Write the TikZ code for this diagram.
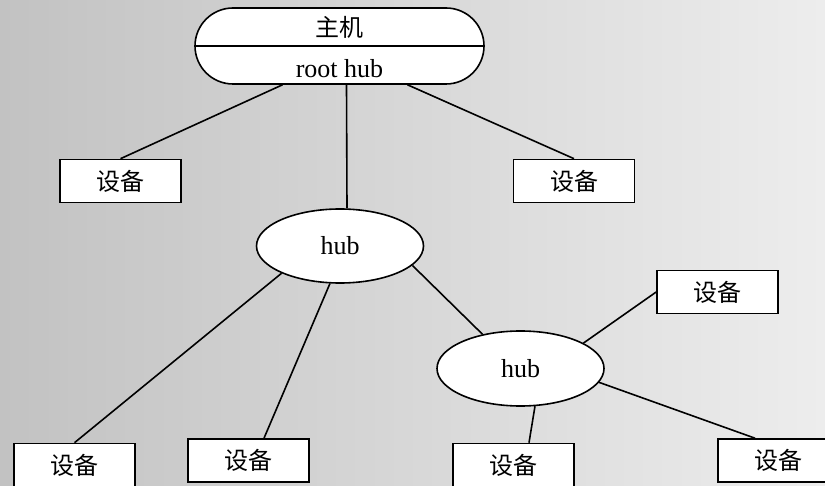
\documentclass[tikz,border=0pt]{standalone}
\usepackage{fontspec}
\setmainfont{Liberation Serif}
\newfontfamily\cjk{Noto Sans CJK SC}
\usetikzlibrary{shapes.geometric,calc}
\definecolor{bgL}{RGB}{194,194,194}
\definecolor{bgR}{RGB}{237,237,237}
\begin{document}
\begin{tikzpicture}[x=1pt,y=-1pt,line width=1.6pt,
  devbox/.style={draw,fill=white,minimum width=121pt,minimum height=43pt,inner sep=0pt,font=\cjk\fontsize{24}{24}\selectfont},
  hubnode/.style={draw,fill=white,ellipse,minimum width=167pt,minimum height=74pt,inner sep=0pt,font=\fontsize{26}{26}\selectfont},
  link/.style={line width=1.6pt}]
\fill[left color=bgL,right color=bgR] (0,0) rectangle (825,486);
\useasboundingbox (0,0) rectangle (825,486);
\clip (0,0) rectangle (825,486);
% root
\node[draw,fill=white,rounded corners=38pt,minimum width=289pt,minimum height=76pt,inner sep=0pt] (root) at (339.5,46) {};
\draw (root.west) -- (root.east);
\node[font=\cjk\fontsize{24}{24}\selectfont] (zj) at (339.5,27) {主机};
\node[font=\fontsize{26}{26}\selectfont] (rh) at (339.5,69) {root hub};
% devices
\node[devbox] (dev1) at (120.5,181) {设备};
\node[devbox] (dev2) at (574,181) {设备};
\node[devbox] (dev3) at (717.5,292) {设备};
\node[devbox] (dev4) at (74.5,465) {设备};
\node[devbox] (dev5) at (248.5,460.5) {设备};
\node[devbox] (dev6) at (513.5,465) {设备};
\node[devbox] (dev7) at (778.5,460.5) {设备};
% hubs
\node[hubnode] (hub1) at (340,246) {hub};
\node[hubnode,minimum height=75pt] (hub2) at (520.5,368.5) {hub};
% links
\draw[link] ($(root.south)+(-57,0)$) -- (dev1.north);
\draw[link] ($(root.south)+(68,0)$) -- (dev2.north);
\draw[link] ($(root.south)+(7,0)$) -- ($(hub1.north)+(7,0)$);
\draw[link] (hub1.205.8) -- (dev4.north);
\draw[link] (hub1.255.6) -- ($(dev5.north)+(15.5,0)$);
\draw[link] (hub1.345.4) -- (hub2.138.2);
\draw[link] (hub2.22) -- (dev3.west);
\draw[link] (hub2.291.9) -- ($(dev6.north)+(15.5,0)$);
\draw[link] (hub2.350.4) -- ($(dev7.north)+(-23.5,0)$);
\end{tikzpicture}
\end{document}
